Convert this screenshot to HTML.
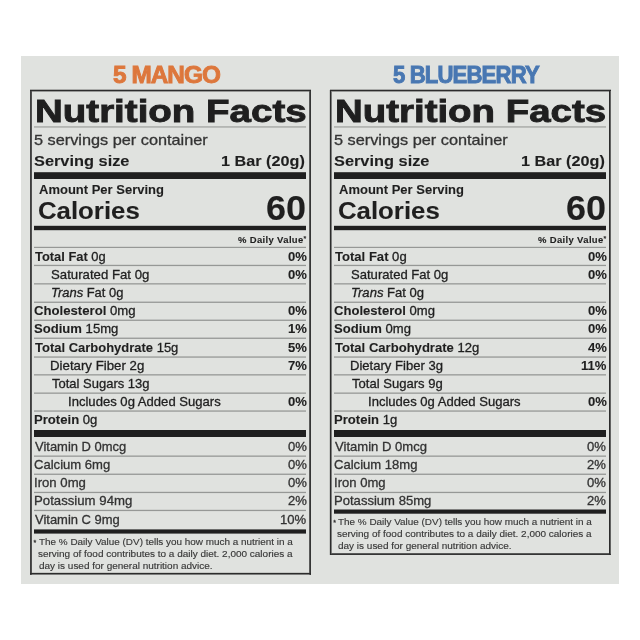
<!DOCTYPE html><html><head><meta charset="utf-8"><style>
html,body{margin:0;padding:0;background:#ffffff;width:640px;height:640px;overflow:hidden;position:relative}
.t{position:absolute;white-space:nowrap;font-family:'Liberation Sans', sans-serif;transform-origin:0 0;-webkit-text-stroke:0.3px currentColor}
.r{position:absolute}
.t b{-webkit-text-stroke:0.1px currentColor}
#w{position:absolute;left:0;top:0;width:640px;height:640px;filter:blur(0.35px)}
</style></head><body><div id="w">
<div class="r" style="left:21.00px;top:56.00px;width:598.00px;height:528.00px;background:#e0e2df"></div>
<div class="r" style="left:34.00px;top:266.00px;width:272.00px;height:1.00px;background:#d9dbd8"></div>
<div class="r" style="left:34.00px;top:493.00px;width:272.00px;height:1.00px;background:#d9dbd8"></div>
<div class="r" style="left:34.00px;top:511.00px;width:272.00px;height:1.00px;background:#d9dbd8"></div>
<div class="r" style="left:334.00px;top:266.00px;width:272.00px;height:1.00px;background:#d9dbd8"></div>
<div class="r" style="left:334.00px;top:493.00px;width:272.00px;height:1.00px;background:#d9dbd8"></div>
<div class="r" style="left:34.00px;top:246.00px;width:272.00px;height:1.00px;background:#d1d3d0"></div>
<div class="r" style="left:34.00px;top:264.00px;width:272.00px;height:1.00px;background:#d1d3d0"></div>
<div class="r" style="left:34.00px;top:491.00px;width:272.00px;height:1.00px;background:#d1d3d0"></div>
<div class="r" style="left:34.00px;top:509.00px;width:272.00px;height:1.00px;background:#d1d3d0"></div>
<div class="r" style="left:334.00px;top:246.00px;width:272.00px;height:1.00px;background:#d1d3d0"></div>
<div class="r" style="left:334.00px;top:264.00px;width:272.00px;height:1.00px;background:#d1d3d0"></div>
<div class="r" style="left:334.00px;top:491.00px;width:272.00px;height:1.00px;background:#d1d3d0"></div>
<div class="r" style="left:30.00px;top:572.00px;width:281.00px;height:1.00px;background:#c5c7c4"></div>
<div class="r" style="left:329.00px;top:90.00px;width:1.00px;height:465.00px;background:#c5c7c4"></div>
<div class="r" style="left:34.00px;top:301.00px;width:272.00px;height:1.00px;background:#c2c4c2"></div>
<div class="r" style="left:34.00px;top:319.00px;width:272.00px;height:1.00px;background:#c2c4c2"></div>
<div class="r" style="left:34.00px;top:337.00px;width:272.00px;height:1.00px;background:#c2c4c2"></div>
<div class="r" style="left:34.00px;top:473.00px;width:272.00px;height:1.00px;background:#c2c4c2"></div>
<div class="r" style="left:334.00px;top:301.00px;width:272.00px;height:1.00px;background:#c2c4c2"></div>
<div class="r" style="left:334.00px;top:319.00px;width:272.00px;height:1.00px;background:#c2c4c2"></div>
<div class="r" style="left:334.00px;top:337.00px;width:272.00px;height:1.00px;background:#c2c4c2"></div>
<div class="r" style="left:334.00px;top:473.00px;width:272.00px;height:1.00px;background:#c2c4c2"></div>
<div class="r" style="left:34.00px;top:127.00px;width:272.00px;height:1.00px;background:#bbbdba"></div>
<div class="r" style="left:34.00px;top:284.00px;width:272.00px;height:1.00px;background:#bbbdba"></div>
<div class="r" style="left:34.00px;top:375.00px;width:272.00px;height:1.00px;background:#bbbdba"></div>
<div class="r" style="left:34.00px;top:392.00px;width:272.00px;height:1.00px;background:#bbbdba"></div>
<div class="r" style="left:34.00px;top:455.00px;width:272.00px;height:1.00px;background:#bbbdba"></div>
<div class="r" style="left:334.00px;top:127.00px;width:272.00px;height:1.00px;background:#bbbdba"></div>
<div class="r" style="left:334.00px;top:284.00px;width:272.00px;height:1.00px;background:#bbbdba"></div>
<div class="r" style="left:334.00px;top:375.00px;width:272.00px;height:1.00px;background:#bbbdba"></div>
<div class="r" style="left:334.00px;top:392.00px;width:272.00px;height:1.00px;background:#bbbdba"></div>
<div class="r" style="left:334.00px;top:455.00px;width:272.00px;height:1.00px;background:#bbbdba"></div>
<div class="r" style="left:34.00px;top:225.00px;width:272.00px;height:1.00px;background:#b9bbb9"></div>
<div class="r" style="left:34.00px;top:230.00px;width:272.00px;height:1.00px;background:#b9bbb9"></div>
<div class="r" style="left:334.00px;top:225.00px;width:272.00px;height:1.00px;background:#b9bbb9"></div>
<div class="r" style="left:334.00px;top:230.00px;width:272.00px;height:1.00px;background:#b9bbb9"></div>
<div class="r" style="left:34.00px;top:126.00px;width:272.00px;height:1.00px;background:#b4b6b3"></div>
<div class="r" style="left:34.00px;top:356.00px;width:272.00px;height:1.00px;background:#b4b6b3"></div>
<div class="r" style="left:34.00px;top:410.00px;width:272.00px;height:1.00px;background:#b4b6b3"></div>
<div class="r" style="left:334.00px;top:126.00px;width:272.00px;height:1.00px;background:#b4b6b3"></div>
<div class="r" style="left:334.00px;top:356.00px;width:272.00px;height:1.00px;background:#b4b6b3"></div>
<div class="r" style="left:334.00px;top:410.00px;width:272.00px;height:1.00px;background:#b4b6b3"></div>
<div class="r" style="left:34.00px;top:357.00px;width:272.00px;height:1.00px;background:#acaeac"></div>
<div class="r" style="left:34.00px;top:411.00px;width:272.00px;height:1.00px;background:#acaeac"></div>
<div class="r" style="left:334.00px;top:357.00px;width:272.00px;height:1.00px;background:#acaeac"></div>
<div class="r" style="left:334.00px;top:411.00px;width:272.00px;height:1.00px;background:#acaeac"></div>
<div class="r" style="left:30.00px;top:89.00px;width:281.00px;height:1.00px;background:#aaaba9"></div>
<div class="r" style="left:330.00px;top:89.00px;width:281.00px;height:1.00px;background:#aaaba9"></div>
<div class="r" style="left:34.00px;top:283.00px;width:272.00px;height:1.00px;background:#a5a7a5"></div>
<div class="r" style="left:34.00px;top:374.00px;width:272.00px;height:1.00px;background:#a5a7a5"></div>
<div class="r" style="left:34.00px;top:393.00px;width:272.00px;height:1.00px;background:#a5a7a5"></div>
<div class="r" style="left:34.00px;top:456.00px;width:272.00px;height:1.00px;background:#a5a7a5"></div>
<div class="r" style="left:334.00px;top:283.00px;width:272.00px;height:1.00px;background:#a5a7a5"></div>
<div class="r" style="left:334.00px;top:374.00px;width:272.00px;height:1.00px;background:#a5a7a5"></div>
<div class="r" style="left:334.00px;top:393.00px;width:272.00px;height:1.00px;background:#a5a7a5"></div>
<div class="r" style="left:334.00px;top:456.00px;width:272.00px;height:1.00px;background:#a5a7a5"></div>
<div class="r" style="left:34.00px;top:302.00px;width:272.00px;height:1.00px;background:#9d9f9d"></div>
<div class="r" style="left:34.00px;top:320.00px;width:272.00px;height:1.00px;background:#9d9f9d"></div>
<div class="r" style="left:34.00px;top:338.00px;width:272.00px;height:1.00px;background:#9d9f9d"></div>
<div class="r" style="left:34.00px;top:474.00px;width:272.00px;height:1.00px;background:#9d9f9d"></div>
<div class="r" style="left:334.00px;top:302.00px;width:272.00px;height:1.00px;background:#9d9f9d"></div>
<div class="r" style="left:334.00px;top:320.00px;width:272.00px;height:1.00px;background:#9d9f9d"></div>
<div class="r" style="left:334.00px;top:338.00px;width:272.00px;height:1.00px;background:#9d9f9d"></div>
<div class="r" style="left:334.00px;top:474.00px;width:272.00px;height:1.00px;background:#9d9f9d"></div>
<div class="r" style="left:30.00px;top:91.00px;width:281.00px;height:1.00px;background:#989997"></div>
<div class="r" style="left:330.00px;top:91.00px;width:281.00px;height:1.00px;background:#989997"></div>
<div class="r" style="left:34.00px;top:247.00px;width:272.00px;height:1.00px;background:#969896"></div>
<div class="r" style="left:34.00px;top:265.00px;width:272.00px;height:1.00px;background:#969896"></div>
<div class="r" style="left:34.00px;top:492.00px;width:272.00px;height:1.00px;background:#969896"></div>
<div class="r" style="left:34.00px;top:510.00px;width:272.00px;height:1.00px;background:#969896"></div>
<div class="r" style="left:334.00px;top:247.00px;width:272.00px;height:1.00px;background:#969896"></div>
<div class="r" style="left:334.00px;top:265.00px;width:272.00px;height:1.00px;background:#969896"></div>
<div class="r" style="left:334.00px;top:492.00px;width:272.00px;height:1.00px;background:#969896"></div>
<div class="r" style="left:334.00px;top:509.00px;width:272.00px;height:1.00px;background:#80807f"></div>
<div class="r" style="left:30.00px;top:574.00px;width:281.00px;height:1.00px;background:#7d7e7d"></div>
<div class="r" style="left:331.00px;top:90.00px;width:1.00px;height:465.00px;background:#7d7e7d"></div>
<div class="r" style="left:34.00px;top:529.00px;width:272.00px;height:1.00px;background:#6c6d6c"></div>
<div class="r" style="left:34.00px;top:533.00px;width:272.00px;height:1.00px;background:#6c6d6c"></div>
<div class="r" style="left:610.00px;top:90.00px;width:1.00px;height:465.00px;background:#626362"></div>
<div class="r" style="left:309.00px;top:90.00px;width:1.00px;height:485.00px;background:#595a59"></div>
<div class="r" style="left:330.00px;top:553.00px;width:281.00px;height:1.00px;background:#595a59"></div>
<div class="r" style="left:334.00px;top:513.00px;width:272.00px;height:1.00px;background:#595959"></div>
<div class="r" style="left:31.00px;top:90.00px;width:1.00px;height:485.00px;background:#505050"></div>
<div class="r" style="left:34.00px;top:172.00px;width:272.00px;height:1.00px;background:#464645"></div>
<div class="r" style="left:334.00px;top:172.00px;width:272.00px;height:1.00px;background:#464645"></div>
<div class="r" style="left:30.00px;top:90.00px;width:1.00px;height:485.00px;background:#3e3e3e"></div>
<div class="r" style="left:310.00px;top:90.00px;width:1.00px;height:485.00px;background:#353535"></div>
<div class="r" style="left:330.00px;top:554.00px;width:281.00px;height:1.00px;background:#353535"></div>
<div class="r" style="left:30.00px;top:90.00px;width:281.00px;height:1.00px;background:#2c2c2c"></div>
<div class="r" style="left:30.00px;top:573.00px;width:281.00px;height:1.00px;background:#2c2c2c"></div>
<div class="r" style="left:330.00px;top:90.00px;width:281.00px;height:1.00px;background:#2c2c2c"></div>
<div class="r" style="left:330.00px;top:90.00px;width:1.00px;height:465.00px;background:#2c2c2c"></div>
<div class="r" style="left:609.00px;top:90.00px;width:1.00px;height:465.00px;background:#2c2c2c"></div>
<div class="r" style="left:34.00px;top:173.00px;width:272.00px;height:1.00px;background:#1f1f1f"></div>
<div class="r" style="left:34.00px;top:174.00px;width:272.00px;height:1.00px;background:#1f1f1f"></div>
<div class="r" style="left:34.00px;top:175.00px;width:272.00px;height:1.00px;background:#1f1f1f"></div>
<div class="r" style="left:34.00px;top:176.00px;width:272.00px;height:1.00px;background:#1f1f1f"></div>
<div class="r" style="left:34.00px;top:177.00px;width:272.00px;height:1.00px;background:#1f1f1f"></div>
<div class="r" style="left:34.00px;top:178.00px;width:272.00px;height:1.00px;background:#1f1f1f"></div>
<div class="r" style="left:34.00px;top:226.00px;width:272.00px;height:1.00px;background:#1f1f1f"></div>
<div class="r" style="left:34.00px;top:227.00px;width:272.00px;height:1.00px;background:#1f1f1f"></div>
<div class="r" style="left:34.00px;top:228.00px;width:272.00px;height:1.00px;background:#1f1f1f"></div>
<div class="r" style="left:34.00px;top:229.00px;width:272.00px;height:1.00px;background:#1f1f1f"></div>
<div class="r" style="left:34.00px;top:430.00px;width:272.00px;height:1.00px;background:#1f1f1f"></div>
<div class="r" style="left:34.00px;top:431.00px;width:272.00px;height:1.00px;background:#1f1f1f"></div>
<div class="r" style="left:34.00px;top:432.00px;width:272.00px;height:1.00px;background:#1f1f1f"></div>
<div class="r" style="left:34.00px;top:433.00px;width:272.00px;height:1.00px;background:#1f1f1f"></div>
<div class="r" style="left:34.00px;top:434.00px;width:272.00px;height:1.00px;background:#1f1f1f"></div>
<div class="r" style="left:34.00px;top:435.00px;width:272.00px;height:1.00px;background:#1f1f1f"></div>
<div class="r" style="left:34.00px;top:436.00px;width:272.00px;height:1.00px;background:#1f1f1f"></div>
<div class="r" style="left:34.00px;top:530.00px;width:272.00px;height:1.00px;background:#1f1f1f"></div>
<div class="r" style="left:34.00px;top:531.00px;width:272.00px;height:1.00px;background:#1f1f1f"></div>
<div class="r" style="left:34.00px;top:532.00px;width:272.00px;height:1.00px;background:#1f1f1f"></div>
<div class="r" style="left:334.00px;top:173.00px;width:272.00px;height:1.00px;background:#1f1f1f"></div>
<div class="r" style="left:334.00px;top:174.00px;width:272.00px;height:1.00px;background:#1f1f1f"></div>
<div class="r" style="left:334.00px;top:175.00px;width:272.00px;height:1.00px;background:#1f1f1f"></div>
<div class="r" style="left:334.00px;top:176.00px;width:272.00px;height:1.00px;background:#1f1f1f"></div>
<div class="r" style="left:334.00px;top:177.00px;width:272.00px;height:1.00px;background:#1f1f1f"></div>
<div class="r" style="left:334.00px;top:178.00px;width:272.00px;height:1.00px;background:#1f1f1f"></div>
<div class="r" style="left:334.00px;top:226.00px;width:272.00px;height:1.00px;background:#1f1f1f"></div>
<div class="r" style="left:334.00px;top:227.00px;width:272.00px;height:1.00px;background:#1f1f1f"></div>
<div class="r" style="left:334.00px;top:228.00px;width:272.00px;height:1.00px;background:#1f1f1f"></div>
<div class="r" style="left:334.00px;top:229.00px;width:272.00px;height:1.00px;background:#1f1f1f"></div>
<div class="r" style="left:334.00px;top:430.00px;width:272.00px;height:1.00px;background:#1f1f1f"></div>
<div class="r" style="left:334.00px;top:431.00px;width:272.00px;height:1.00px;background:#1f1f1f"></div>
<div class="r" style="left:334.00px;top:432.00px;width:272.00px;height:1.00px;background:#1f1f1f"></div>
<div class="r" style="left:334.00px;top:433.00px;width:272.00px;height:1.00px;background:#1f1f1f"></div>
<div class="r" style="left:334.00px;top:434.00px;width:272.00px;height:1.00px;background:#1f1f1f"></div>
<div class="r" style="left:334.00px;top:435.00px;width:272.00px;height:1.00px;background:#1f1f1f"></div>
<div class="r" style="left:334.00px;top:436.00px;width:272.00px;height:1.00px;background:#1f1f1f"></div>
<div class="r" style="left:334.00px;top:510.00px;width:272.00px;height:1.00px;background:#1f1f1f"></div>
<div class="r" style="left:334.00px;top:511.00px;width:272.00px;height:1.00px;background:#1f1f1f"></div>
<div class="r" style="left:334.00px;top:512.00px;width:272.00px;height:1.00px;background:#1f1f1f"></div>
<div class="t" style="left:34.51px;top:95px;font-size:32.2px;line-height:32.2px;color:#1f1f1f;transform:scaleX(1.1960);font-weight:bold;-webkit-text-stroke:0.9px #1f1f1f;">Nutrition Facts</div>
<div class="t" style="left:34.41px;top:132px;font-size:15px;line-height:15px;color:#333333;transform:scaleX(1.0855);">5 servings per container</div>
<div class="t" style="left:34.42px;top:153px;font-size:15.2px;line-height:15.2px;color:#1f1f1f;transform:scaleX(1.0770);"><b>Serving size</b></div>
<div class="t" style="left:221.13px;top:153px;font-size:15.2px;line-height:15.2px;color:#1f1f1f;transform:scaleX(1.0688);"><b>1 Bar (20g)</b></div>
<div class="t" style="left:38.75px;top:184px;font-size:12.9px;line-height:12.9px;color:#1f1f1f;transform:scaleX(1.0081);"><b>Amount Per Serving</b></div>
<div class="t" style="left:38.13px;top:199px;font-size:24.2px;line-height:24.2px;color:#1f1f1f;transform:scaleX(1.0660);"><b>Calories</b></div>
<div class="t" style="left:266.46px;top:191px;font-size:34.6px;line-height:34.6px;color:#1f1f1f;transform:scaleX(1.0417);"><b>60</b></div>
<div class="t" style="left:238.40px;top:234px;font-size:9.5px;line-height:9.5px;color:#1f1f1f;transform:scaleX(0.9971);letter-spacing:0.35px;"><b>% Daily Value<span style="font-size:7px;vertical-align:2px">*</span></b></div>
<div class="t" style="left:35.00px;top:251px;font-size:12.9px;line-height:12.9px;color:#1f1f1f;"><b>Total Fat</b> 0g</div>
<div class="t" style="left:287.85px;top:251px;font-size:12.9px;line-height:12.9px;color:#1f1f1f;transform:scaleX(1.0138);"><b>0%</b></div>
<div class="t" style="left:50.98px;top:269px;font-size:12.9px;line-height:12.9px;color:#1f1f1f;transform:scaleX(1.0239);">Saturated Fat 0g</div>
<div class="t" style="left:287.85px;top:269px;font-size:12.9px;line-height:12.9px;color:#1f1f1f;transform:scaleX(1.0138);"><b>0%</b></div>
<div class="t" style="left:51.00px;top:287px;font-size:12.9px;line-height:12.9px;color:#1f1f1f;transform:scaleX(1.0035);"><i>Trans</i> Fat 0g</div>
<div class="t" style="left:33.98px;top:305px;font-size:12.9px;line-height:12.9px;color:#1f1f1f;transform:scaleX(1.0204);"><b>Cholesterol</b> 0mg</div>
<div class="t" style="left:287.85px;top:305px;font-size:12.9px;line-height:12.9px;color:#1f1f1f;transform:scaleX(1.0138);"><b>0%</b></div>
<div class="t" style="left:33.98px;top:323px;font-size:12.9px;line-height:12.9px;color:#1f1f1f;transform:scaleX(1.0152);"><b>Sodium</b> 15mg</div>
<div class="t" style="left:287.85px;top:323px;font-size:12.9px;line-height:12.9px;color:#1f1f1f;transform:scaleX(1.0138);"><b>1%</b></div>
<div class="t" style="left:35.00px;top:342px;font-size:12.9px;line-height:12.9px;color:#1f1f1f;transform:scaleX(1.0070);"><b>Total Carbohydrate</b> 15g</div>
<div class="t" style="left:287.85px;top:342px;font-size:12.9px;line-height:12.9px;color:#1f1f1f;transform:scaleX(1.0138);"><b>5%</b></div>
<div class="t" style="left:50.22px;top:360px;font-size:12.9px;line-height:12.9px;color:#1f1f1f;transform:scaleX(1.0278);">Dietary Fiber 2g</div>
<div class="t" style="left:287.85px;top:360px;font-size:12.9px;line-height:12.9px;color:#1f1f1f;transform:scaleX(1.0138);"><b>7%</b></div>
<div class="t" style="left:52.00px;top:378px;font-size:12.9px;line-height:12.9px;color:#1f1f1f;transform:scaleX(1.0078);">Total Sugars 13g</div>
<div class="t" style="left:68.48px;top:396px;font-size:12.9px;line-height:12.9px;color:#1f1f1f;transform:scaleX(1.0151);">Includes 0g Added Sugars</div>
<div class="t" style="left:287.85px;top:396px;font-size:12.9px;line-height:12.9px;color:#1f1f1f;transform:scaleX(1.0138);"><b>0%</b></div>
<div class="t" style="left:33.98px;top:414px;font-size:12.9px;line-height:12.9px;color:#1f1f1f;transform:scaleX(1.0164);"><b>Protein</b> 0g</div>
<div class="t" style="left:35.00px;top:441px;font-size:12.9px;line-height:12.9px;color:#333333;transform:scaleX(1.0056);">Vitamin D 0mcg</div>
<div class="t" style="left:287.55px;top:441px;font-size:12.9px;line-height:12.9px;color:#333333;transform:scaleX(1.0138);">0%</div>
<div class="t" style="left:33.99px;top:459px;font-size:12.9px;line-height:12.9px;color:#333333;transform:scaleX(1.0135);">Calcium 6mg</div>
<div class="t" style="left:287.55px;top:459px;font-size:12.9px;line-height:12.9px;color:#333333;transform:scaleX(1.0138);">0%</div>
<div class="t" style="left:33.98px;top:477px;font-size:12.9px;line-height:12.9px;color:#333333;transform:scaleX(1.0204);">Iron 0mg</div>
<div class="t" style="left:287.55px;top:477px;font-size:12.9px;line-height:12.9px;color:#333333;transform:scaleX(1.0138);">0%</div>
<div class="t" style="left:33.98px;top:495px;font-size:12.9px;line-height:12.9px;color:#333333;transform:scaleX(1.0239);">Potassium 94mg</div>
<div class="t" style="left:287.55px;top:495px;font-size:12.9px;line-height:12.9px;color:#333333;transform:scaleX(1.0138);">2%</div>
<div class="t" style="left:35.00px;top:514px;font-size:12.9px;line-height:12.9px;color:#333333;transform:scaleX(1.0060);">Vitamin C 9mg</div>
<div class="t" style="left:280.46px;top:514px;font-size:12.9px;line-height:12.9px;color:#333333;transform:scaleX(1.0138);">10%</div>
<div class="t" style="left:33.40px;top:539px;font-size:7.0px;line-height:7.0px;color:#333333;">*</div>
<div class="t" style="left:38.60px;top:537px;font-size:9.6px;line-height:9.6px;color:#383838;transform:scaleX(1.0333);-webkit-text-stroke:0.15px currentColor;">The % Daily Value (DV) tells you how much a nutrient in a</div>
<div class="t" style="left:37.56px;top:549px;font-size:9.6px;line-height:9.6px;color:#383838;transform:scaleX(1.0398);-webkit-text-stroke:0.15px currentColor;">serving of food contributes to a daily diet. 2,000 calories a</div>
<div class="t" style="left:38.60px;top:561px;font-size:9.6px;line-height:9.6px;color:#383838;transform:scaleX(1.0398);-webkit-text-stroke:0.15px currentColor;">day is used for general nutrition advice.</div>
<div class="t" style="left:335.06px;top:95px;font-size:32.2px;line-height:32.2px;color:#1f1f1f;transform:scaleX(1.1938);font-weight:bold;-webkit-text-stroke:0.9px #1f1f1f;">Nutrition Facts</div>
<div class="t" style="left:334.16px;top:132px;font-size:15px;line-height:15px;color:#333333;transform:scaleX(1.0855);">5 servings per container</div>
<div class="t" style="left:334.17px;top:153px;font-size:15.2px;line-height:15.2px;color:#1f1f1f;transform:scaleX(1.0770);"><b>Serving size</b></div>
<div class="t" style="left:520.88px;top:153px;font-size:15.2px;line-height:15.2px;color:#1f1f1f;transform:scaleX(1.0688);"><b>1 Bar (20g)</b></div>
<div class="t" style="left:338.50px;top:184px;font-size:12.9px;line-height:12.9px;color:#1f1f1f;transform:scaleX(1.0081);"><b>Amount Per Serving</b></div>
<div class="t" style="left:337.88px;top:199px;font-size:24.2px;line-height:24.2px;color:#1f1f1f;transform:scaleX(1.0660);"><b>Calories</b></div>
<div class="t" style="left:566.21px;top:191px;font-size:34.6px;line-height:34.6px;color:#1f1f1f;transform:scaleX(1.0417);"><b>60</b></div>
<div class="t" style="left:538.15px;top:234px;font-size:9.5px;line-height:9.5px;color:#1f1f1f;transform:scaleX(0.9971);letter-spacing:0.35px;"><b>% Daily Value<span style="font-size:7px;vertical-align:2px">*</span></b></div>
<div class="t" style="left:334.75px;top:251px;font-size:12.9px;line-height:12.9px;color:#1f1f1f;transform:scaleX(1.0138);"><b>Total Fat</b> 0g</div>
<div class="t" style="left:587.60px;top:251px;font-size:12.9px;line-height:12.9px;color:#1f1f1f;transform:scaleX(1.0138);"><b>0%</b></div>
<div class="t" style="left:350.74px;top:269px;font-size:12.9px;line-height:12.9px;color:#1f1f1f;transform:scaleX(1.0138);">Saturated Fat 0g</div>
<div class="t" style="left:587.60px;top:269px;font-size:12.9px;line-height:12.9px;color:#1f1f1f;transform:scaleX(1.0138);"><b>0%</b></div>
<div class="t" style="left:350.74px;top:287px;font-size:12.9px;line-height:12.9px;color:#1f1f1f;transform:scaleX(1.0138);"><i>Trans</i> Fat 0g</div>
<div class="t" style="left:333.74px;top:305px;font-size:12.9px;line-height:12.9px;color:#1f1f1f;transform:scaleX(1.0138);"><b>Cholesterol</b> 0mg</div>
<div class="t" style="left:587.60px;top:305px;font-size:12.9px;line-height:12.9px;color:#1f1f1f;transform:scaleX(1.0138);"><b>0%</b></div>
<div class="t" style="left:333.74px;top:323px;font-size:12.9px;line-height:12.9px;color:#1f1f1f;transform:scaleX(1.0138);"><b>Sodium</b> 0mg</div>
<div class="t" style="left:587.60px;top:323px;font-size:12.9px;line-height:12.9px;color:#1f1f1f;transform:scaleX(1.0138);"><b>0%</b></div>
<div class="t" style="left:334.75px;top:342px;font-size:12.9px;line-height:12.9px;color:#1f1f1f;transform:scaleX(1.0138);"><b>Total Carbohydrate</b> 12g</div>
<div class="t" style="left:587.60px;top:342px;font-size:12.9px;line-height:12.9px;color:#1f1f1f;transform:scaleX(1.0138);"><b>4%</b></div>
<div class="t" style="left:349.99px;top:360px;font-size:12.9px;line-height:12.9px;color:#1f1f1f;transform:scaleX(1.0138);">Dietary Fiber 3g</div>
<div class="t" style="left:580.51px;top:360px;font-size:12.9px;line-height:12.9px;color:#1f1f1f;transform:scaleX(1.0138);"><b>11%</b></div>
<div class="t" style="left:351.75px;top:378px;font-size:12.9px;line-height:12.9px;color:#1f1f1f;transform:scaleX(1.0138);">Total Sugars 9g</div>
<div class="t" style="left:368.24px;top:396px;font-size:12.9px;line-height:12.9px;color:#1f1f1f;transform:scaleX(1.0138);">Includes 0g Added Sugars</div>
<div class="t" style="left:587.60px;top:396px;font-size:12.9px;line-height:12.9px;color:#1f1f1f;transform:scaleX(1.0138);"><b>0%</b></div>
<div class="t" style="left:333.74px;top:414px;font-size:12.9px;line-height:12.9px;color:#1f1f1f;transform:scaleX(1.0138);"><b>Protein</b> 1g</div>
<div class="t" style="left:334.75px;top:441px;font-size:12.9px;line-height:12.9px;color:#333333;transform:scaleX(1.0138);">Vitamin D 0mcg</div>
<div class="t" style="left:587.30px;top:441px;font-size:12.9px;line-height:12.9px;color:#333333;transform:scaleX(1.0138);">0%</div>
<div class="t" style="left:333.74px;top:459px;font-size:12.9px;line-height:12.9px;color:#333333;transform:scaleX(1.0138);">Calcium 18mg</div>
<div class="t" style="left:587.30px;top:459px;font-size:12.9px;line-height:12.9px;color:#333333;transform:scaleX(1.0138);">2%</div>
<div class="t" style="left:333.74px;top:477px;font-size:12.9px;line-height:12.9px;color:#333333;transform:scaleX(1.0138);">Iron 0mg</div>
<div class="t" style="left:587.30px;top:477px;font-size:12.9px;line-height:12.9px;color:#333333;transform:scaleX(1.0138);">0%</div>
<div class="t" style="left:333.74px;top:495px;font-size:12.9px;line-height:12.9px;color:#333333;transform:scaleX(1.0138);">Potassium 85mg</div>
<div class="t" style="left:587.30px;top:495px;font-size:12.9px;line-height:12.9px;color:#333333;transform:scaleX(1.0138);">2%</div>
<div class="t" style="left:333.15px;top:519px;font-size:7.0px;line-height:7.0px;color:#333333;">*</div>
<div class="t" style="left:338.35px;top:517px;font-size:9.6px;line-height:9.6px;color:#383838;transform:scaleX(1.0333);-webkit-text-stroke:0.15px currentColor;">The % Daily Value (DV) tells you how much a nutrient in a</div>
<div class="t" style="left:337.31px;top:529px;font-size:9.6px;line-height:9.6px;color:#383838;transform:scaleX(1.0398);-webkit-text-stroke:0.15px currentColor;">serving of food contributes to a daily diet. 2,000 calories a</div>
<div class="t" style="left:338.35px;top:541px;font-size:9.6px;line-height:9.6px;color:#383838;transform:scaleX(1.0398);-webkit-text-stroke:0.15px currentColor;">day is used for general nutrition advice.</div>
<div class="t" style="left:112.90px;top:64px;font-size:23.0px;line-height:23.0px;color:#dd773c;transform:scaleX(1.0579);font-weight:bold;letter-spacing:-0.9px;-webkit-text-stroke:0.9px currentColor;">5 MANGO</div>
<div class="t" style="left:392.50px;top:64px;font-size:23.0px;line-height:23.0px;color:#4877b2;transform:scaleX(0.9622);font-weight:bold;letter-spacing:-0.9px;-webkit-text-stroke:0.9px currentColor;">5 BLUEBERRY</div>
</div></body></html>
